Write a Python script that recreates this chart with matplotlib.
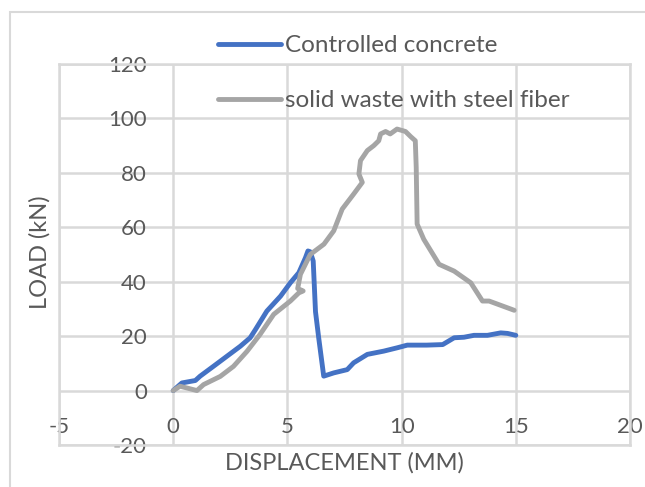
import numpy as np
import matplotlib
matplotlib.use('Agg')
import matplotlib.pyplot as plt
from matplotlib.patches import Rectangle

# data
ctrl_x = [0, 0.38, 0.97, 1.18, 1.76, 2.35, 2.94, 3.37, 3.6, 4.1, 4.7, 5.13, 5.5, 5.79,
          5.9, 6.0, 6.13, 6.23, 6.37, 6.59, 7.03, 7.62, 7.9, 8.5, 9.22, 9.8, 10.25,
          11.1, 11.8, 12.3, 12.73, 13.17, 13.76, 14.34, 14.64, 15.0]
ctrl_y = [0, 2.8, 3.7, 5.3, 8.9, 12.6, 16.3, 19.4, 22.4, 29.2, 34.7, 39.6, 43.3, 48.8,
          51.3, 51.0, 47.6, 29, 19.4, 5.3, 6.5, 7.7, 10.2, 13.3, 14.5, 15.7, 16.7,
          16.7, 16.9, 19.4, 19.6, 20.3, 20.3, 21.2, 21.0, 20.3]

waste_x = [0, 0.3, 1.04, 1.33, 2.06, 2.64, 3.23, 3.8, 4.4, 5.13, 5.5, 5.69, 5.45, 5.57,
           6.0, 6.6, 7.03, 7.4, 7.9, 8.28, 8.13, 8.2, 8.5, 8.78, 9.0, 9.08, 9.3, 9.5,
           9.8, 10.17, 10.4, 10.6, 10.64, 10.68, 10.97, 11.64, 12.3, 13.03, 13.54,
           13.83, 14.93]
waste_y = [0, 1.6, 0, 2.2, 5.2, 8.9, 14.4, 20.6, 28, 32.9, 35.9, 36.6, 37.5, 42.7,
           50, 53.8, 58.7, 66.7, 72.2, 76.5, 79.6, 84.5, 88.2, 90, 91.8, 94.3, 95.2,
           94.3, 96.1, 95.2, 93.3, 91.8, 82, 61.2, 55.6, 46.4, 43.9, 39.6, 32.9,
           32.9, 29.5]

labels = ['Controlled concrete', 'solid waste with steel fiber']
xticks = [-5, 0, 5, 10, 15, 20]
yticks = [-20, 0, 20, 40, 60, 80, 100, 120]

plt.rcParams['font.family'] = ['Lato', 'DejaVu Sans']
plt.rcParams['axes.unicode_minus'] = False
txt = '#595959'
grid = '#D9D9D9'

W, H = 645, 487
fig = plt.figure(figsize=(W / 100, H / 100), dpi=100)
ax = fig.add_axes([59 / W, 1 - 445 / H, (630 - 59) / W, (445 - 64) / H])

# chart area border
fig.patches.append(Rectangle((10 / W, -0.1), 1.2, 1 - 12 / H + 0.1, transform=fig.transFigure,
                             fill=False, edgecolor=grid, lw=1.5))

ax.plot(ctrl_x, ctrl_y, color='#4472C4', lw=3.5, label=labels[0],
        solid_joinstyle='round', solid_capstyle='round', zorder=3)
ax.plot(waste_x, waste_y, color='#A5A5A5', lw=3.5, label=labels[1],
        solid_joinstyle='round', solid_capstyle='round', zorder=4)

ax.set_xlim(-5, 20)
ax.set_ylim(-20, 120)
ax.set_xticks(xticks)
ax.set_yticks(yticks)
ax.grid(True, color=grid, lw=1.8)
ax.set_axisbelow(True)
for s in ax.spines.values():
    s.set_color(grid)
    s.set_linewidth(1.8)

ax.tick_params(length=0, labelsize=16, labelcolor=txt)
ax.tick_params(axis='y', pad=-(147 - 59) * 0.72)
ax.tick_params(axis='x', pad=-(445 - 417) * 0.72)

ax.set_xlabel('DISPLACEMENT (MM)', fontsize=17, color=txt)
ax.set_ylabel('LOAD (kN)', fontsize=17, color=txt)
ax.xaxis.set_label_coords(0.5, -0.018)
ax.yaxis.set_label_coords(-0.015, 0.505)

fig.legend(loc='upper left', bbox_to_anchor=(218 / W, 1 - 35 / H), frameon=False,
           fontsize=17.5, labelcolor=txt, handlelength=2.6, handletextpad=0.15,
           labelspacing=1.4, borderpad=0, borderaxespad=0)

fig.savefig('out.png', dpi=100)
